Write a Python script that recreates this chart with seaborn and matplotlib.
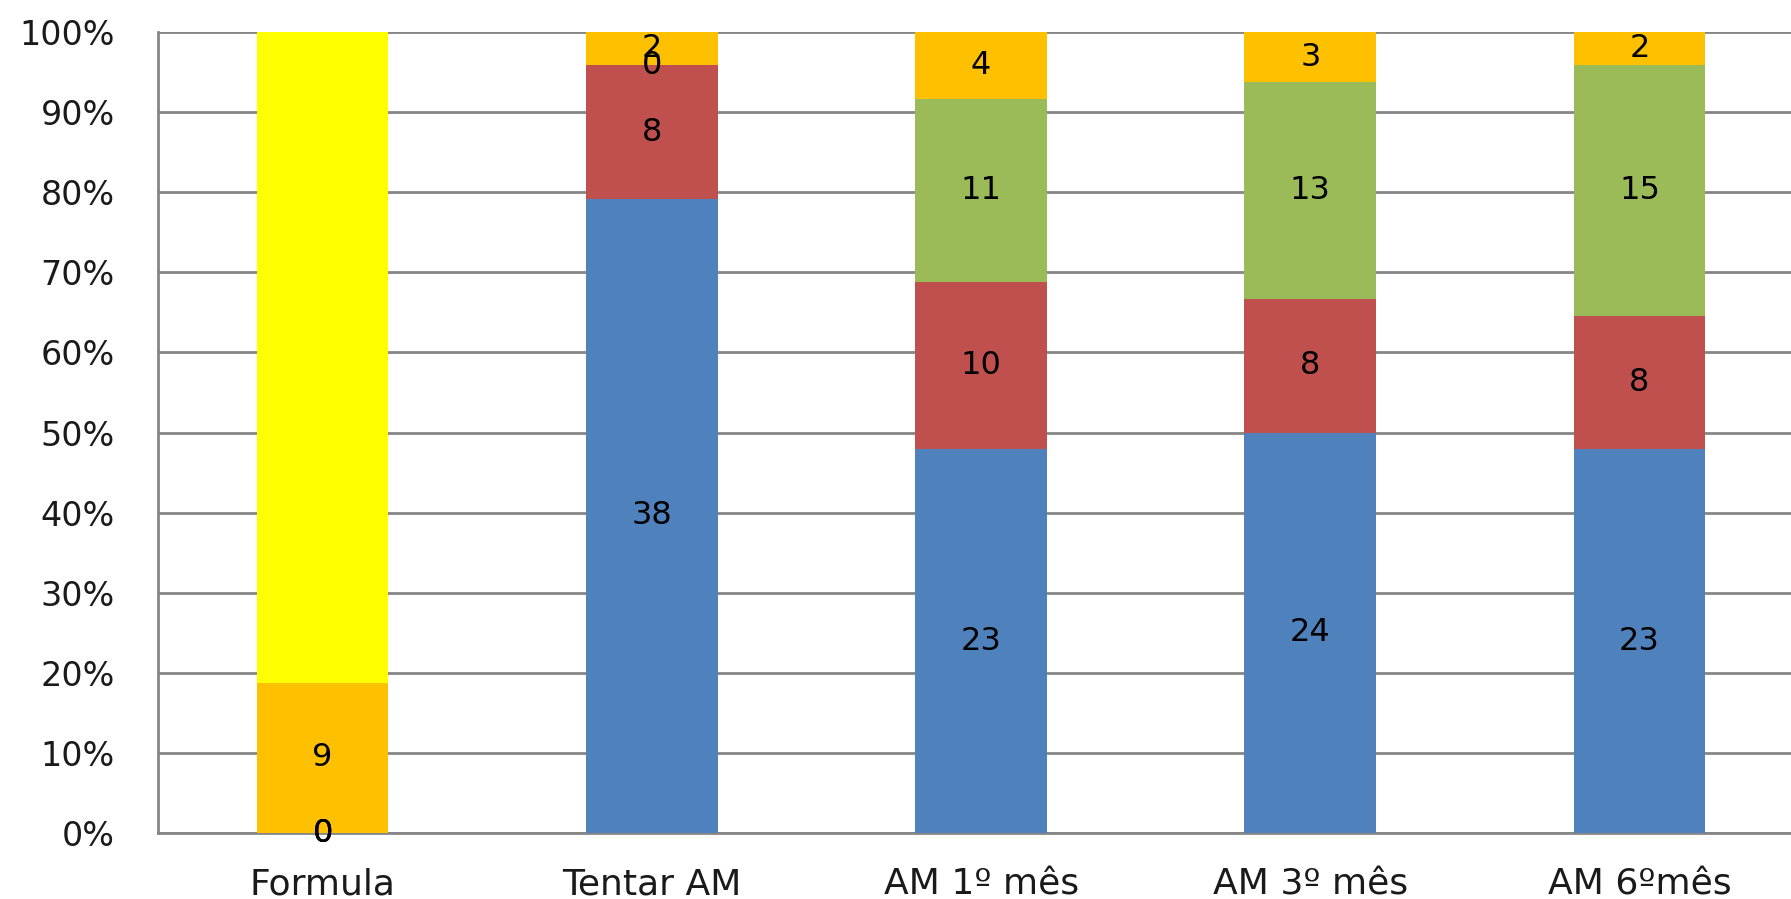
import numpy as np
import seaborn as sns
import matplotlib.pyplot as plt
from matplotlib.ticker import FixedLocator, PercentFormatter

# data (counts per group)
categories = ['Formula', 'Tentar AM', 'AM 1º mês', 'AM 3º mês', 'AM 6ºmês']
blue = [0, 38, 23, 24, 23]
red = [0, 8, 10, 8, 8]
green = [0, 0, 11, 13, 15]
orange = [9, 2, 4, 3, 2]
yellow = [39, 0, 0, 0, 0]

series = [blue, red, green, orange, yellow]
colors = ['#4F81BD', '#C0504D', '#9BBB59', '#FFC000', '#FFFF00']
labelled = [True, True, True, True, False]

sns.set_style('white')
plt.rcParams['font.family'] = ['DejaVu Sans']

fig = plt.figure(figsize=(17.91, 8.99), dpi=100)
ax = fig.add_axes([0.0882, 0.0734, 0.9118, 0.891])

totals = np.array(series).sum(axis=0)
bottom = np.zeros(len(categories))
for vals, col, lab in zip(series, colors, labelled):
    pct = np.array(vals) / totals * 100
    sns.barplot(x=categories, y=pct, bottom=bottom, color=col, width=0.4,
                errorbar=None, saturation=1, linewidth=0, ax=ax, zorder=3)
    if lab:
        for i, (v, p) in enumerate(zip(vals, pct)):
            ax.text(i, bottom[i] + p / 2, str(v), ha='center', va='center',
                    fontsize=23, color='black', zorder=5)
    bottom += pct

ax.set_xlim(-0.5, 4.46)
ax.set_ylim(0, 100)
ax.set_yticks(np.arange(0, 101, 10))
ax.yaxis.set_major_formatter(PercentFormatter(decimals=0))
ax.grid(axis='y', color='#868686', linewidth=2, zorder=0)
ax.set_axisbelow(True)

ax.xaxis.set_minor_locator(FixedLocator([0.5, 1.5, 2.5, 3.5]))
ax.tick_params(axis='x', which='major', length=0, pad=25, labelsize=26,
               labelcolor='#1a1a1a')
ax.tick_params(axis='x', which='minor', length=8.5, width=2, color='#868686', direction='out')
ax.tick_params(axis='y', length=12, width=2, color='#868686', pad=19, labelsize=24,
               labelcolor='#1a1a1a')

for s in ['top', 'right']:
    ax.spines[s].set_visible(False)
for s in ['left', 'bottom']:
    ax.spines[s].set_color('#868686')
    ax.spines[s].set_linewidth(2)

ax.set_xlabel('')
ax.set_ylabel('')

fig.savefig('out.png', dpi=100)
